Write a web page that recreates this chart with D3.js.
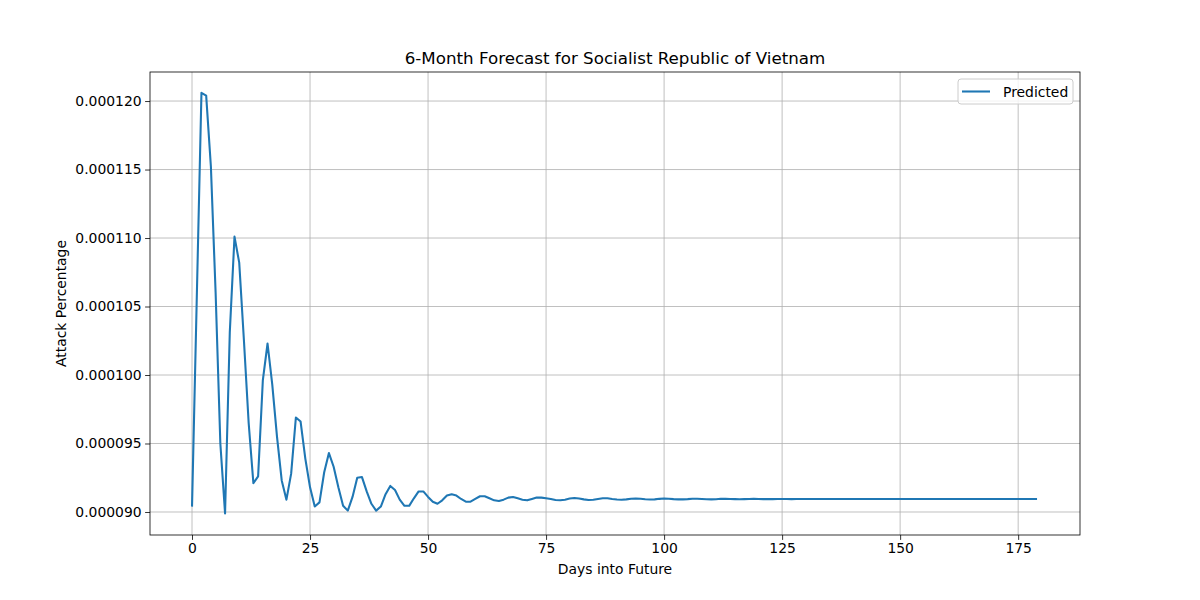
<!DOCTYPE html>
<html><head><meta charset="utf-8">
<script src="https://cdn.jsdelivr.net/npm/d3@7"></script>
<style>body{margin:0;background:#fff;font-family:"DejaVu Sans",sans-serif;}</style>
</head><body><svg id="c" width="1200" height="600"></svg>
<script>
const title = "6-Month Forecast for Socialist Republic of Vietnam";
const xLabel = "Days into Future";
const yLabel = "Attack Percentage";
const seriesName = "Predicted";
const xTicks = [0,25,50,75,100,125,150,175];
const yTicks = [0.000090,0.000095,0.000100,0.000105,0.000110,0.000115,0.000120];
// predicted values in units of 1e-6, days 0..179
const predictedMicro = [
90.39,105.5,120.6,120.4,115.2,106.0,95.0,89.9,103.1,110.1,
108.2,102.5,96.5,92.1,92.6,99.6,102.3,99.3,95.5,92.3,
90.9,92.8,96.9,96.6,93.9,91.8,90.4,90.7,92.9,94.3,
93.3,91.8,90.45,90.1,91.1,92.5,92.55,91.5,90.6,90.1,
90.4,91.3,91.9,91.6,90.9,90.45,90.45,91.0,91.5,91.5,
91.1,90.75,90.6,90.85,91.2,91.3,91.2,90.95,90.75,90.75,
90.95,91.15,91.15,91.0,90.85,90.8,90.9,91.05,91.1,91.0,
90.9,90.85,90.95,91.05,91.05,91.0,90.95,90.88,90.86,90.9,
90.98,91.02,90.98,90.92,90.88,90.89,90.95,91.0,91.0,90.95,
90.91,90.89,90.92,90.97,90.99,90.97,90.93,90.91,90.92,90.96,
90.98,90.97,90.94,90.92,90.92,90.94,90.97,90.97,90.95,90.93,
90.92,90.93,90.96,90.96,90.95,90.94,90.93,90.94,90.95,90.96,
90.95,90.94,90.94,90.94,90.95,90.95,90.95,90.94,90.95,90.95,
90.95,90.95,90.95,90.95,90.95,90.95,90.95,90.95,90.95,90.95,
90.95,90.95,90.95,90.95,90.95,90.95,90.95,90.95,90.95,90.95,
90.95,90.95,90.95,90.95,90.95,90.95,90.95,90.95,90.95,90.95,
90.95,90.95,90.95,90.95,90.95,90.95,90.95,90.95,90.95,90.95,
90.95,90.95,90.95,90.95,90.95,90.95,90.95,90.95,90.95,90.95
];
const data = predictedMicro.map((v,i)=>({d:i, v:v*1e-6}));

const L=150,R=1080,T=72,B=535;
const svg=d3.select("#c");
const x=d3.scaleLinear().domain([-8.9,188.1]).range([L,R]);
const y=d3.scaleLinear().domain([0.00008832,0.00012212]).range([B,T]);

const g=svg.append("g");
g.selectAll(".gx").data(xTicks).join("line").attr("x1",d=>x(d)).attr("x2",d=>x(d)).attr("y1",T).attr("y2",B).attr("stroke","#b0b0b0").attr("stroke-width",0.8);
g.selectAll(".gy").data(yTicks).join("line").attr("y1",d=>y(d)).attr("y2",d=>y(d)).attr("x1",L).attr("x2",R).attr("stroke","#b0b0b0").attr("stroke-width",0.8);

const xa=svg.append("g").attr("transform",`translate(0,${B})`).call(d3.axisBottom(x).tickValues(xTicks).tickSize(4.9).tickPadding(3.5).tickFormat(d3.format("d")));
const ya=svg.append("g").attr("transform",`translate(${L},0)`).call(d3.axisLeft(y).tickValues(yTicks).tickSize(4.9).tickPadding(3.5).tickFormat(d=>d.toFixed(6)));
[xa,ya].forEach(a=>{a.select(".domain").remove();a.selectAll("text").attr("font-size",13.9).attr("fill","#000").attr("font-family","DejaVu Sans");a.selectAll("line").attr("stroke","#000").attr("stroke-width",0.8);});

svg.append("path").datum(data).attr("fill","none").attr("stroke","#1f77b4").attr("stroke-width",2.08).attr("stroke-linejoin","round")
  .attr("d",d3.line().x(d=>x(d.d)).y(d=>y(d.v)));

svg.append("rect").attr("x",L).attr("y",T).attr("width",R-L).attr("height",B-T).attr("fill","none").attr("stroke","#000").attr("stroke-width",0.8);

svg.append("text").attr("x",(L+R)/2).attr("y",64).attr("text-anchor","middle").attr("font-size",16.7).text(title);
svg.append("text").attr("x",(L+R)/2).attr("y",574).attr("text-anchor","middle").attr("font-size",13.9).text(xLabel);
svg.append("text").attr("transform",`translate(66,${(T+B)/2}) rotate(-90)`).attr("text-anchor","middle").attr("font-size",13.9).text(yLabel);

const lg=svg.append("g");
lg.append("rect").attr("x",958).attr("y",79).attr("width",115).attr("height",25).attr("rx",3).attr("fill","#fff").attr("fill-opacity",0.8).attr("stroke","#cccccc");
lg.append("line").attr("x1",962).attr("x2",990).attr("y1",91.5).attr("y2",91.5).attr("stroke","#1f77b4").attr("stroke-width",2.08);
lg.append("text").attr("x",1003).attr("y",96.5).attr("font-size",13.9).text(seriesName);
</script></body></html>
